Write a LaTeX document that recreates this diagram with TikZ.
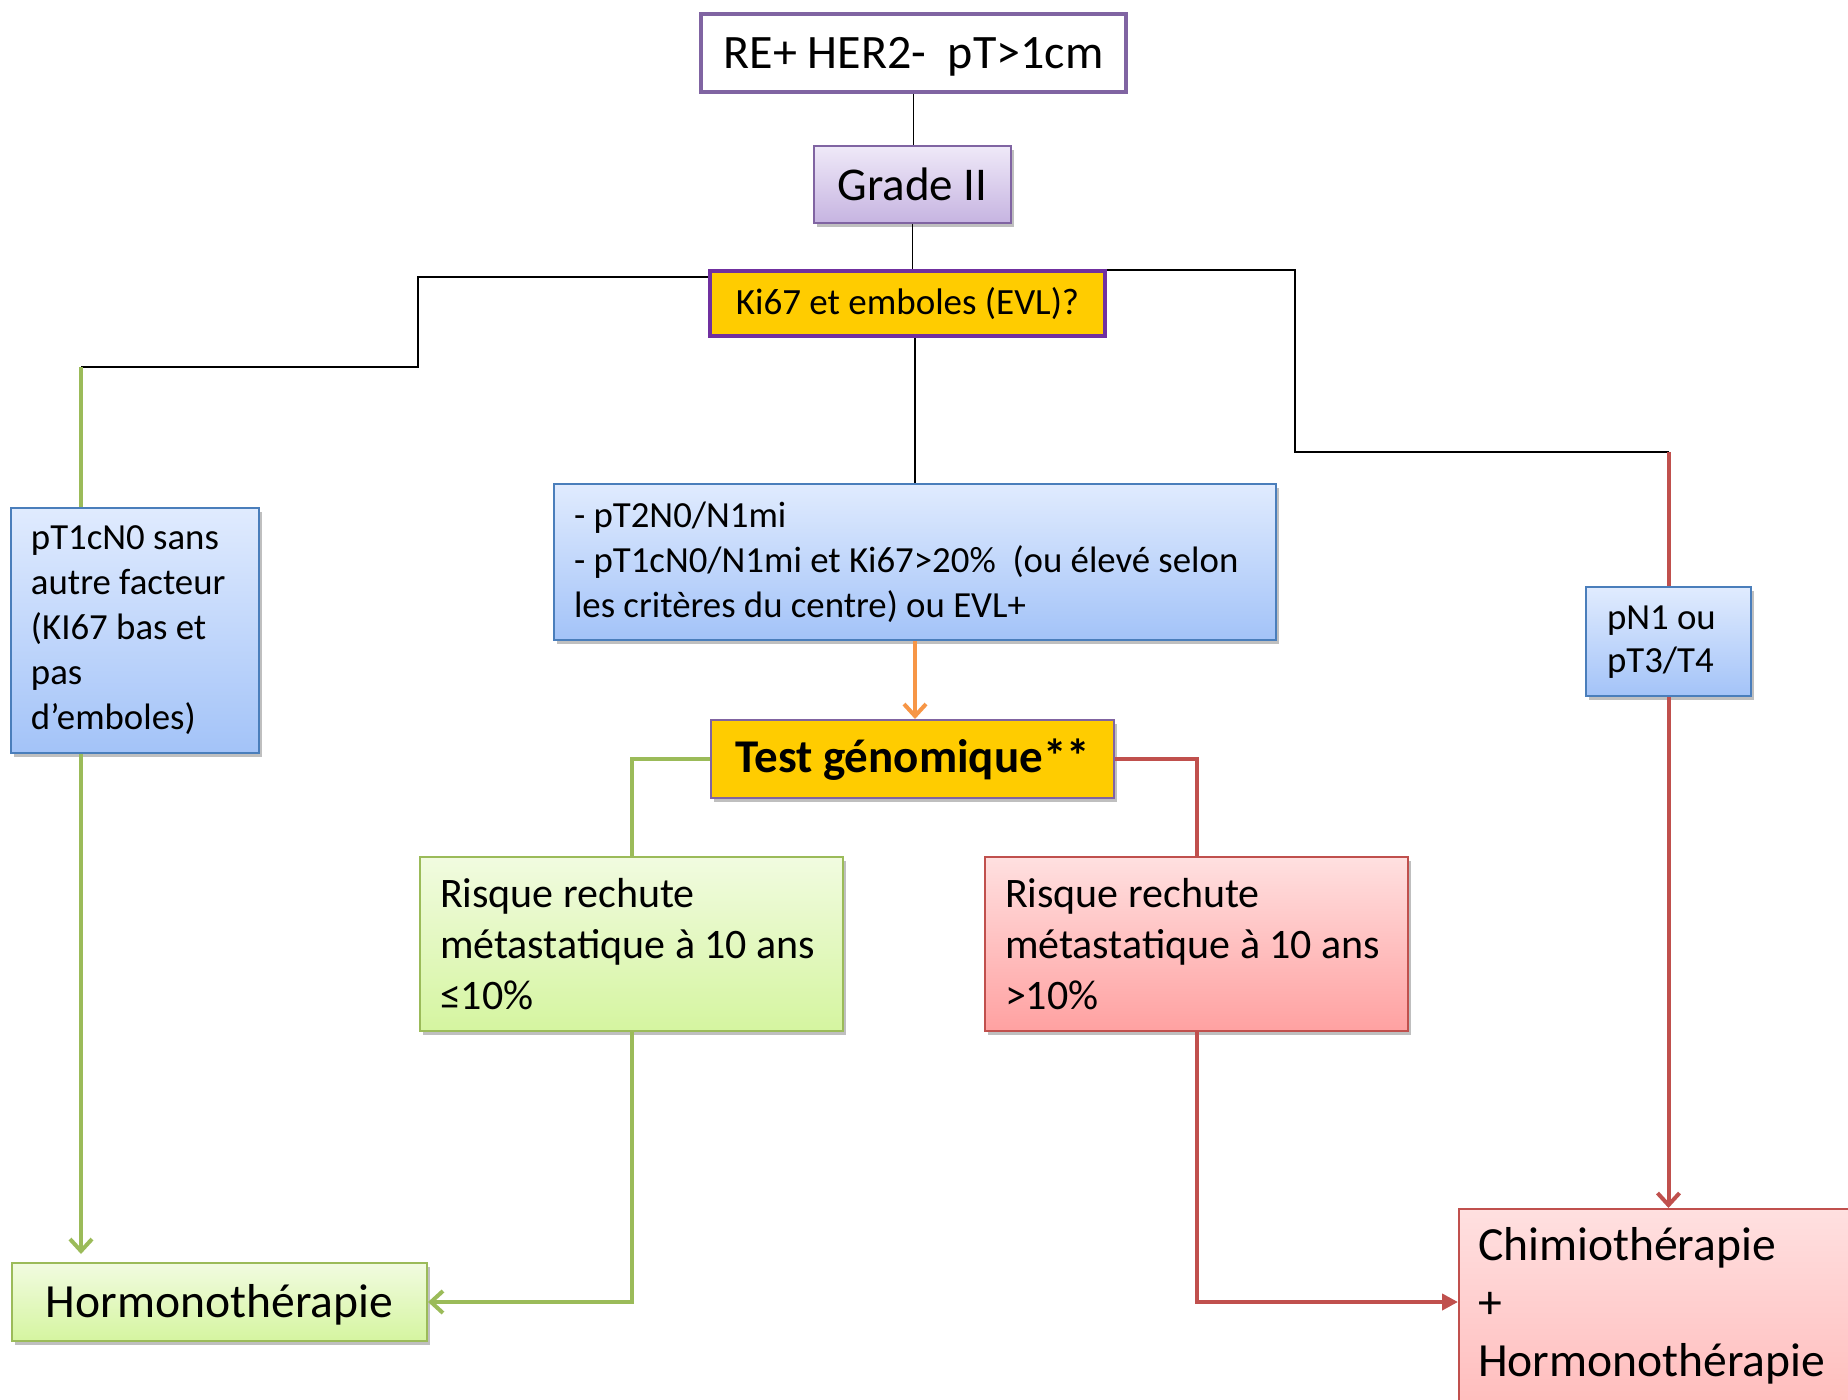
\documentclass[tikz,border=0pt]{standalone}
\usepackage{fontspec}
\setmainfont{Carlito}
\usetikzlibrary{arrows.meta,shadows,calc}
\definecolor{purp}{HTML}{8064A2}
\definecolor{darkpurp}{HTML}{7030A0}
\definecolor{gold}{HTML}{FFCC00}
\definecolor{blueb}{HTML}{4A7EBB}
\definecolor{bluet}{HTML}{E0EBFE}
\definecolor{blueB}{HTML}{A3C3F8}
\definecolor{greenb}{HTML}{9BBB59}
\definecolor{greent}{HTML}{F1FBE0}
\definecolor{greenB}{HTML}{D5F5A0}
\definecolor{redb}{HTML}{C0504D}
\definecolor{redt}{HTML}{FFE0E0}
\definecolor{redB}{HTML}{FFA1A1}
\definecolor{lavt}{HTML}{EFE9F8}
\definecolor{lavB}{HTML}{C6B4E1}
\definecolor{orangel}{HTML}{F79646}
\tikzset{
  shad/.style={drop shadow={shadow xshift=1.5pt,shadow yshift=-2pt,opacity=0.25,fill=black}},
  box/.style={draw, inner sep=0pt, align=center},
  bluebox/.style={box, draw=blueb, line width=1pt, top color=bluet, bottom color=blueB, shad, align=flush left, inner xsep=10pt, font=\fontsize{18.4}{22.5}\selectfont},
  greenbox/.style={box, draw=greenb, line width=1pt, top color=greent, bottom color=greenB, shad, align=flush left, font=\fontsize{21}{25.5}\selectfont},
  redbox/.style={box, draw=redb, line width=1pt, top color=redt, bottom color=redB, shad, align=flush left, font=\fontsize{21}{25.5}\selectfont},
  conn/.style={draw=black, line width=0.75pt},
  gline/.style={draw=greenb, line width=2pt},
  rline/.style={draw=redb, line width=2pt},
  oline/.style={draw=orangel, line width=2pt},
  barb/.style={-{Straight Barb[length=6pt,width=11pt]}},
}
\begin{document}
\begin{tikzpicture}[x=0.5pt,y=-0.5pt]
\useasboundingbox (0,0) rectangle (1848,1400);
\clip (0,0) rectangle (1848,1400);

\node[box, draw=purp, line width=2pt, fill=white, minimum width=212.5pt, minimum height=39pt, text height=19.5pt, text depth=4pt, font=\fontsize{24}{29}\selectfont] (top) at (913.5,53) {RE+ HER2-\ \ pT>1cm};
\node[box, draw=purp, line width=1pt, top color=lavt, bottom color=lavB, shad, minimum width=98.5pt, minimum height=38.5pt, font=\fontsize{23.5}{28}\selectfont] (grade) at (912.5,184.5) {Grade II};
\node[box, draw=darkpurp, line width=2.25pt, fill=gold, minimum width=197.5pt, minimum height=32.5pt, font=\fontsize{18.5}{22.5}\selectfont] (ki67) at (907.5,303.5) {Ki67 et emboles (EVL)?};

\node[bluebox, text width=104pt, minimum height=122.5pt] (pt1) at (135,630.5) {pT1cN0 sans\\autre facteur\\(KI67 bas et\\pas\\d’emboles)};
\node[bluebox, text width=341pt, minimum height=78pt] (mid) at (915,562) {- pT2N0/N1mi\\- pT1cN0/N1mi et Ki67>20\%\ \ (ou élevé selon\\les critères du centre) ou EVL+};
\node[bluebox, inner xsep=10.5pt, text width=61.5pt, minimum height=54.5pt, font=\fontsize{18.4}{21.5}\selectfont] (pn1) at (1668.5,642) {pN1 ou\\pT3/T4};

\node[box, draw=purp, line width=1pt, fill=gold, shad, minimum width=201.5pt, minimum height=39pt, text height=18pt, text depth=4pt, font=\bfseries\fontsize{23.5}{28}\selectfont] (test) at (912.5,759) {Test génomique**};

\node[greenbox, inner xsep=10pt, text width=191.5pt, minimum height=87pt] (grn) at (631.5,944) {Risque rechute\\métastatique à 10 ans\\≤10\%};
\node[redbox, inner xsep=10pt, text width=191.5pt, minimum height=87pt] (red) at (1196.5,944) {Risque rechute\\métastatique à 10 ans\\>10\%};

\node[greenbox, align=center, minimum width=207.5pt, minimum height=39pt, text height=19pt, text depth=4pt, font=\fontsize{23.8}{29}\selectfont] (horm) at (219.5,1302) {Hormonothérapie};
\node[redbox, anchor=north west, inner xsep=9.5pt, inner ysep=0pt, text height=25.5pt, text depth=150pt, text width=200pt, font=\fontsize{23.8}{29}\selectfont] (chim) at (1458,1208) {Chimiothérapie\\+\\Hormonothérapie};

\coordinate (jl) at (418,367);
\coordinate (jr) at (1295,452);
\coordinate (gx) at (81,367);

\draw[conn] (top.south) -- (top.south |- grade.north);
\draw[conn] (grade.south) -- (grade.south |- ki67.north);
\draw[conn] (mid.north |- ki67.south) -- (mid.north);
\draw[conn] ([yshift=13.25pt]ki67.west) -| (jl) -- (gx);
\draw[gline] (gx) -- (gx |- pt1.north);
\draw[gline, barb] (gx |- pt1.south) -- ([yshift=4pt]gx |- horm.north);
\draw[conn] ([yshift=16.75pt]ki67.east) -| (jr) -- (jr -| pn1.north);
\draw[rline] (jr -| pn1.north) -- (pn1.north);
\draw[rline, barb] (pn1.south) -- (pn1.south |- chim.north);
\draw[oline, barb] (mid.south) -- (mid.south |- test.north);
\draw[gline] (test.west) -| (grn.north);
\draw[rline] (test.east) -| (red.north);
\draw[gline, barb] (grn.south) |- (horm.east);
\draw[rline, -{Triangle[length=8pt,width=8pt]}] (red.south) |- (horm.east -| chim.west);
\end{tikzpicture}
\end{document}
